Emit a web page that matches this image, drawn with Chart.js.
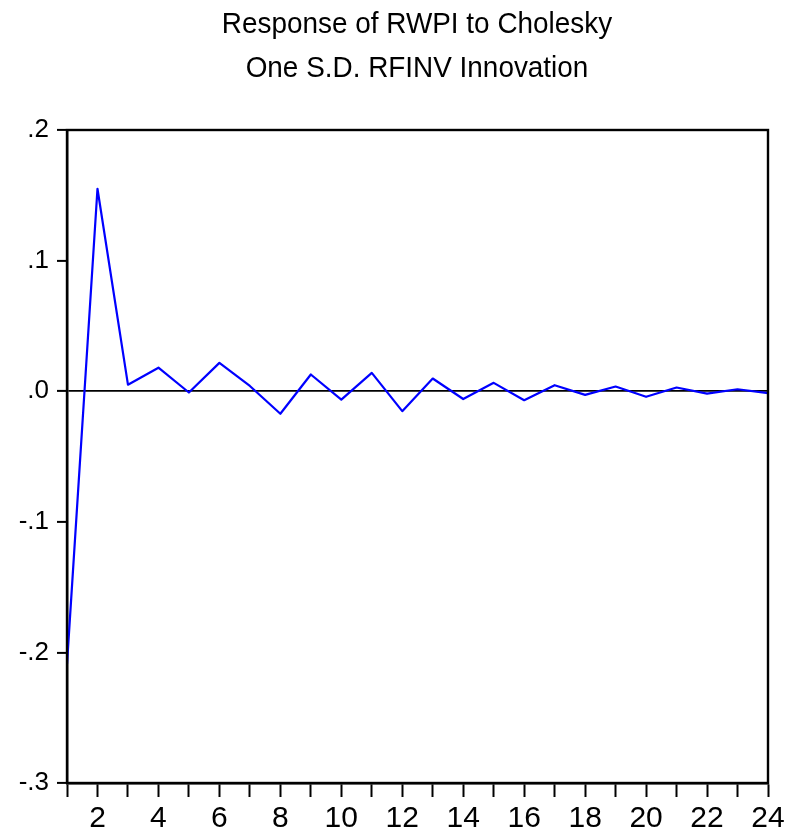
<!DOCTYPE html>
<html>
<head>
<meta charset="utf-8">
<script src="https://cdn.jsdelivr.net/npm/chart.js@4/dist/chart.umd.min.js"></script>
<style>
html,body{margin:0;padding:0;background:#fff;}
#wrap{width:794px;height:839px;position:relative;}
</style>
</head>
<body>
<div id="wrap"><canvas id="c" width="794" height="839"></canvas></div>
<script>
const titleLines = ["Response of RWPI to Cholesky", "One S.D. RFINV Innovation"];
const periods = [1,2,3,4,5,6,7,8,9,10,11,12,13,14,15,16,17,18,19,20,21,22,23,24];
const response = [-0.209, 0.155, 0.005, 0.018, -0.001, 0.0217, 0.004, -0.0173, 0.0128, -0.0064, 0.014, -0.0153,
                  0.0097, -0.006, 0.0064, -0.0069, 0.0046, -0.0028, 0.0036, -0.0043, 0.0028, -0.0018, 0.0015, -0.0015];
const yMin = -0.3, yMax = 0.2, yStep = 0.1;

const FONT = "'Liberation Sans', Arial, sans-serif";

const frame = {
  id: 'frame',
  afterDraw(chart) {
    const a = chart.chartArea, ctx = chart.ctx;
    ctx.save();
    ctx.strokeStyle = '#000';
    ctx.lineWidth = 2.4;
    ctx.strokeRect(a.left, a.top, a.right - a.left, a.bottom - a.top);
    // title, slightly condensed like the original
    ctx.fillStyle = '#000';
    ctx.font = "30px " + FONT;
    ctx.textAlign = 'center';
    ctx.textBaseline = 'alphabetic';
    const cx = 417;
    const ys = [33, 77];
    titleLines.forEach((t, i) => {
      const w = ctx.measureText(t).width;
      ctx.fillText(t, cx, ys[i], w * 0.93);
    });
    ctx.restore();
  }
};

function fmtY(v) {
  const r = Math.round(v * 10) / 10;
  if (r === 0) return '.0';
  return r.toFixed(1).replace('0.', '.');
}

new Chart(document.getElementById('c'), {
  type: 'line',
  data: {
    labels: periods.map(String),
    datasets: [{
      data: response,
      borderColor: '#0000FF',
      borderWidth: 2.2,
      borderJoinStyle: 'round',
      pointRadius: 0,
      tension: 0,
      fill: false
    }]
  },
  options: {
    responsive: false,
    animation: false,
    events: [],
    layout: { padding: { left: 0, right: 26, top: 130, bottom: 0 } },
    plugins: {
      legend: { display: false },
      tooltip: { enabled: false },
      title: { display: false }
    },
    scales: {
      x: {
        type: 'category',
        offset: false,
        border: { display: true, color: '#000', width: 2.4 },
        grid: { drawOnChartArea: false, drawTicks: true, tickLength: 14, tickColor: '#000', tickWidth: 2, color: '#000' },
        ticks: {
          autoSkip: false,
          maxRotation: 0,
          color: '#000',
          padding: 4,
          font: { family: FONT, size: 30 },
          callback: function(val, idx) { const p = periods[idx]; return p % 2 === 0 ? String(p) : ''; }
        },
        afterFit(scale) { scale.height = 56; }
      },
      y: {
        min: yMin,
        max: yMax,
        border: { display: true, color: '#000', width: 2.4 },
        grid: {
          drawOnChartArea: true,
          drawTicks: true,
          tickLength: 10,
          tickColor: '#000',
          tickWidth: 2,
          lineWidth: 1.8,
          color: ctx => (ctx.tick && Math.abs(ctx.tick.value) < 1e-9) ? '#000' : 'rgba(0,0,0,0)'
        },
        ticks: {
          stepSize: yStep,
          color: '#000',
          padding: 8,
          font: { family: FONT, size: 26 },
          callback: v => fmtY(v)
        },
        afterFit(scale) { scale.width = 67; }
      }
    }
  },
  plugins: [frame]
});
</script>
</body>
</html>
